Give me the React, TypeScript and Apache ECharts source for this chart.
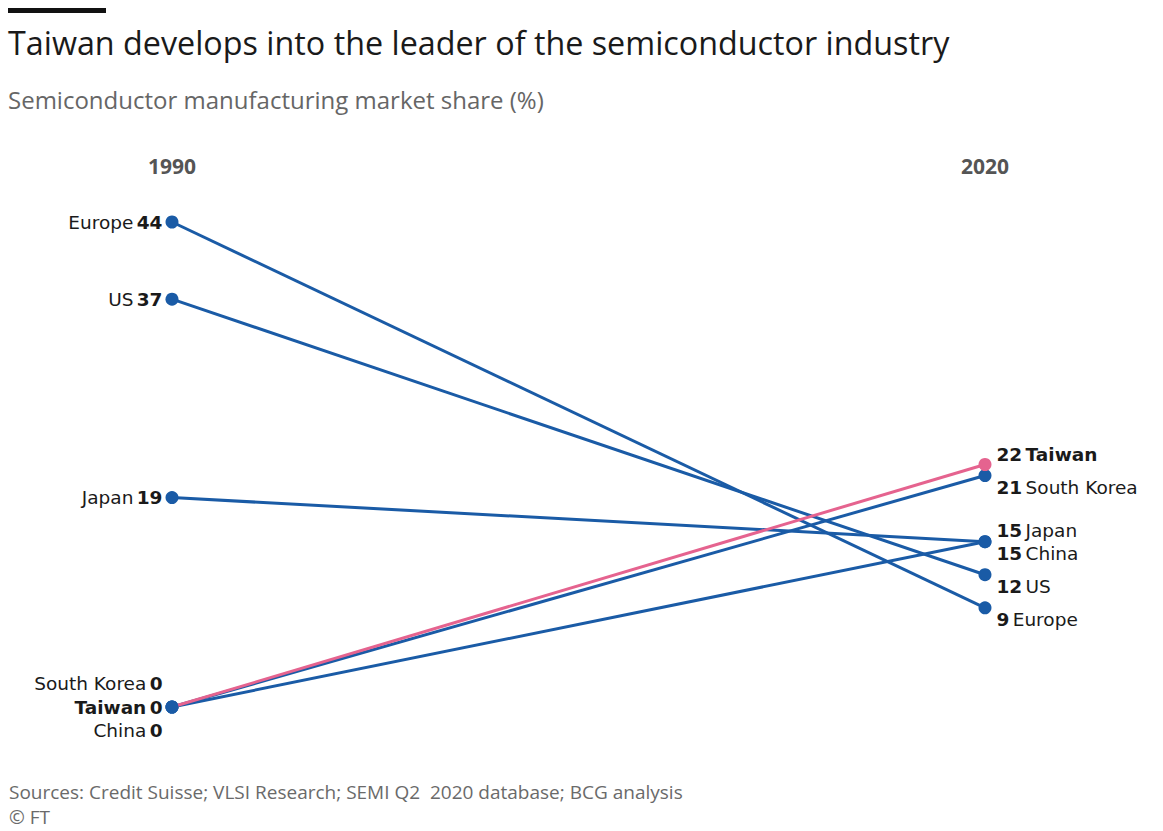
import React, { useEffect, useRef } from "react";
import * as echarts from "echarts";

const years = ["1990", "2020"];
const countries = ["Europe", "US", "Japan", "South Korea", "China", "Taiwan"];
const share1990 = [44, 37, 19, 0, 0, 0];
const share2020 = [9, 12, 15, 21, 15, 22];

const title = "Taiwan develops into the leader of the semiconductor industry";
const subtitle = "Semiconductor manufacturing market share (%)";
const source = "Sources: Credit Suisse; VLSI Research; SEMI Q2  2020 database; BCG analysis";
const credit = "© FT";

const BLUE = "#1a5ba6";
const PINK = "#e5638f";
const FONT = "'Open Sans', 'Noto Sans', sans-serif";
const LABEL_FONT = "'DejaVu Sans', sans-serif";

// label vertical nudges (styling only)
const leftOffset: Record<string, number> = { "South Korea": -24, Taiwan: 0, China: 23 };
const rightOffset: Record<string, number> = {
  Taiwan: -10, "South Korea": 12, Japan: -11, China: 12, US: 12, Europe: 12,
};

export default function App() {
  const ref = useRef<HTMLDivElement>(null);
  useEffect(() => {
    if (!ref.current) return;
    const chart = echarts.init(ref.current, undefined, { renderer: "svg" });
    const base = { fontFamily: LABEL_FONT, fontSize: 18.5, color: "#1a1a1a", lineHeight: 20 };
    const rich = {
      n: { ...base },
      nb: { ...base, fontWeight: "bold" },
      v: { ...base, fontWeight: "bold" },
    };
    const series = countries.map((c, i) => {
      const isTw = c === "Taiwan";
      const color = isTw ? PINK : BLUE;
      const nameTag = isTw ? "nb" : "n";
      return {
        type: "line",
        name: c,
        z: isTw ? 5 : 2,
        symbol: "circle",
        symbolSize: 13,
        lineStyle: { color, width: 3 },
        itemStyle: { color },
        data: [
          {
            value: share1990[i],
            itemStyle: { color: BLUE },
            label: {
              show: true,
              position: "left",
              distance: 3,
              offset: [0, leftOffset[c] ?? 0],
              formatter: `{${nameTag}|${c}} {v|${share1990[i]}}`,
              rich,
            },
          },
          {
            value: share2020[i],
            label: {
              show: true,
              position: "right",
              distance: 5,
              offset: [0, rightOffset[c] ?? 0],
              formatter: `{v|${share2020[i]}} {${nameTag}|${c}}`,
              rich,
            },
          },
        ],
      };
    });
    chart.setOption({
      animation: false,
      backgroundColor: "#ffffff",
      grid: { left: 172, right: 178, top: 222, bottom: 124 },
      xAxis: {
        type: "category",
        data: years,
        boundaryGap: false,
        position: "top",
        axisLine: { show: false },
        axisTick: { show: false },
        splitLine: { show: false },
        axisLabel: {
          margin: 46,
          fontFamily: FONT,
          fontSize: 21,
          fontWeight: "bold",
          color: "#555555",
        },
      },
      yAxis: {
        type: "value",
        min: 0,
        max: 44,
        show: false,
      },
      graphic: [
        { type: "rect", shape: { x: 8, y: 8, width: 98, height: 5 }, style: { fill: "#111111" } },
        {
          type: "text", x: 8, y: 26,
          style: { text: title, fontFamily: FONT, fontSize: 32.3, fill: "#1a1a1a" },
        },
        {
          type: "text", x: 8, y: 87,
          style: { text: subtitle, fontFamily: FONT, fontSize: 24, fill: "#666666" },
        },
        {
          type: "text", x: 9, y: 782,
          style: { text: source, fontFamily: FONT, fontSize: 19, fill: "#6a6a6a" },
        },
        {
          type: "text", x: 9, y: 807,
          style: { text: credit, fontFamily: FONT, fontSize: 19, fill: "#6a6a6a" },
        },
      ],
      series,
    });
    return () => chart.dispose();
  }, []);
  return <div ref={ref} style={{ position: "fixed", left: 0, top: 0, width: 1163, height: 831 }} />;
}
